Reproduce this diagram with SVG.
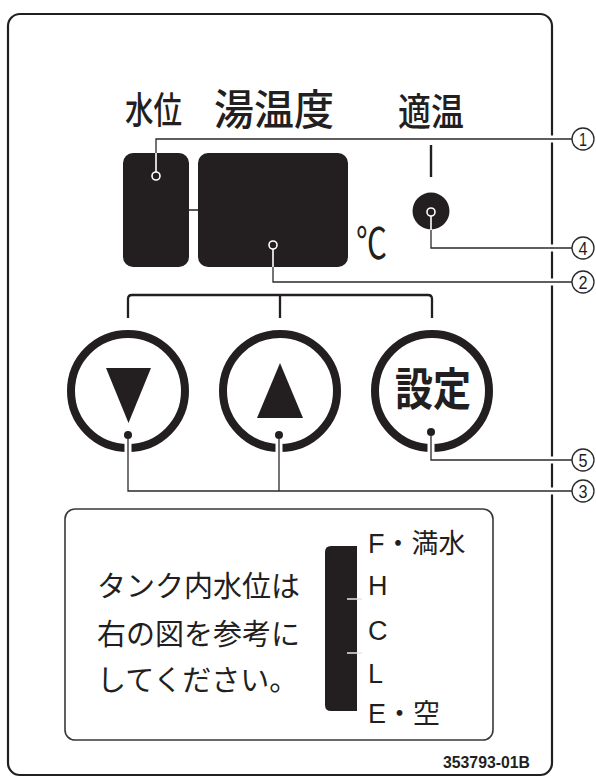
<svg xmlns="http://www.w3.org/2000/svg" width="596" height="778" viewBox="0 0 596 778">
<style>
.ink{fill:#231f20}
.jp{font-family:"Noto Sans CJK JP","Noto Sans CJK SC",sans-serif}
.mid{font-weight:500}
.bold{font-weight:bold}
.lat{font-family:"Liberation Sans","Noto Sans CJK JP",sans-serif}
.ring{fill:none;stroke:#231f20;stroke-width:8}
.halo{fill:none;stroke:#fff;stroke-width:7}
.lead{fill:none;stroke:#2b2829;stroke-width:1.3}
.leadw{fill:none;stroke:#fff;stroke-width:1.6}
.num{fill:#fff;stroke:#2b2829;stroke-width:1.3}
.numt{font-family:"Liberation Sans",sans-serif;font-size:19px;fill:#231f20;text-anchor:middle}
</style>
<rect width="596" height="778" fill="#fff"/>
<g id="frame">
<rect x="8" y="14" width="544" height="761" rx="12" fill="none" stroke="#231f20" stroke-width="2.2"/>
</g>
<g id="labels-top">
<text class="ink jp mid" x="125" y="124" font-size="37" textLength="57" lengthAdjust="spacingAndGlyphs">水位</text>
<text class="ink jp mid" x="214" y="125" font-size="42" textLength="120" lengthAdjust="spacingAndGlyphs">湯温度</text>
<text class="ink jp mid" x="398" y="125" font-size="38" textLength="66" lengthAdjust="spacingAndGlyphs">適温</text>
</g>
<g id="display-level">
<rect x="123" y="153" width="66" height="114" rx="10" class="ink"/>
</g>
<g id="display-temp">
<rect x="198" y="153" width="150" height="114" rx="10" class="ink"/>
<text class="ink jp" x="356" y="259" font-size="43" textLength="31" lengthAdjust="spacingAndGlyphs">℃</text>
</g>
<g id="lamp">
<line x1="431" y1="145" x2="431" y2="177" stroke="#231f20" stroke-width="2.4"/>
<circle cx="431" cy="211" r="18.5" class="ink"/>
</g>
<g id="bracket">
<path d="M128,318 V299 Q128,295 132,295 H428 Q432,295 432,299 V318 M280,295 V318" fill="none" stroke="#231f20" stroke-width="2.3"/>
</g>
<g id="btn-down">
<circle cx="128" cy="391" r="57" class="ring"/>
<polygon points="106,368 151,368 128.5,423" class="ink"/>
</g>
<g id="btn-up">
<circle cx="280" cy="391" r="57" class="ring"/>
<polygon points="257,418 303,418 280,363" class="ink"/>
</g>
<g id="btn-set">
<circle cx="432" cy="391" r="57" class="ring"/>
<text class="ink jp bold" x="395" y="406" font-size="45" textLength="76" lengthAdjust="spacingAndGlyphs">設定</text>
</g>
<g id="connectors">
<line x1="189" y1="210" x2="198" y2="210" stroke="#231f20" stroke-width="1.5"/>
<path class="halo" d="M156,153 V139 H572 M273,267 V282 H572 M431,230 V248 H572 M431,436 V460 H572 M128,439 V491 H572 M279,439 V491"/>
<path class="lead" d="M156,153 V139 H572 M273,267 V282 H572 M431,230 V248 H572 M431,436 V460 H572 M128,439 V491 H572 M279,439 V491"/>
<path class="leadw" d="M156,153 V172 M273,249 V267 M431,216 V230"/>
<circle cx="156" cy="176" r="4" fill="#231f20" stroke="#fff" stroke-width="1.6"/>
<circle cx="273" cy="245" r="4" fill="#231f20" stroke="#fff" stroke-width="1.6"/>
<circle cx="431" cy="212" r="4" fill="#231f20" stroke="#fff" stroke-width="1.6"/>
<circle cx="128" cy="435" r="4" class="ink"/>
<circle cx="279" cy="435" r="4" class="ink"/>
<circle cx="431" cy="432" r="4" class="ink"/>
</g>
<g id="callout-1"><circle cx="583" cy="139" r="11" class="num"/><text class="numt" x="583" y="146" textLength="8" lengthAdjust="spacingAndGlyphs">1</text></g>
<g id="callout-4"><circle cx="583" cy="248" r="11" class="num"/><text class="numt" x="583" y="255" textLength="9" lengthAdjust="spacingAndGlyphs">4</text></g>
<g id="callout-2"><circle cx="583" cy="282" r="11" class="num"/><text class="numt" x="583" y="289" textLength="9" lengthAdjust="spacingAndGlyphs">2</text></g>
<g id="callout-5"><circle cx="583" cy="460" r="11" class="num"/><text class="numt" x="583" y="467" textLength="9" lengthAdjust="spacingAndGlyphs">5</text></g>
<g id="callout-3"><circle cx="583" cy="491" r="11" class="num"/><text class="numt" x="583" y="498" textLength="9" lengthAdjust="spacingAndGlyphs">3</text></g>
<g id="info-box">
<rect x="65" y="509" width="428" height="231" rx="10" fill="none" stroke="#3a3738" stroke-width="1.6"/>
<text class="ink jp" font-size="29" x="97" y="597">タンク内水位は</text>
<text class="ink jp" font-size="29" x="97" y="645">右の図を参考に</text>
<text class="ink jp" font-size="29" x="97" y="691">してください。</text>
<path d="M331,546 H357 V711 H331 Q325,711 325,705 V552 Q325,546 331,546 Z" class="ink"/>
<line x1="347" y1="599" x2="362" y2="599" stroke="#e6e6e6" stroke-width="1.5"/>
<line x1="347" y1="653" x2="362" y2="653" stroke="#e6e6e6" stroke-width="1.5"/>
<text class="ink lat" font-size="27" x="368" y="553">F・満水</text>
<text class="ink lat" font-size="27" x="368" y="595">H</text>
<text class="ink lat" font-size="27" x="368" y="640">C</text>
<text class="ink lat" font-size="27" x="368" y="683">L</text>
<text class="ink lat" font-size="27" x="368" y="723">E・空</text>
</g>
<text class="ink" font-family="Liberation Sans, sans-serif" font-weight="bold" font-size="16" x="443" y="768" textLength="87" lengthAdjust="spacingAndGlyphs">353793-01B</text>
</svg>
